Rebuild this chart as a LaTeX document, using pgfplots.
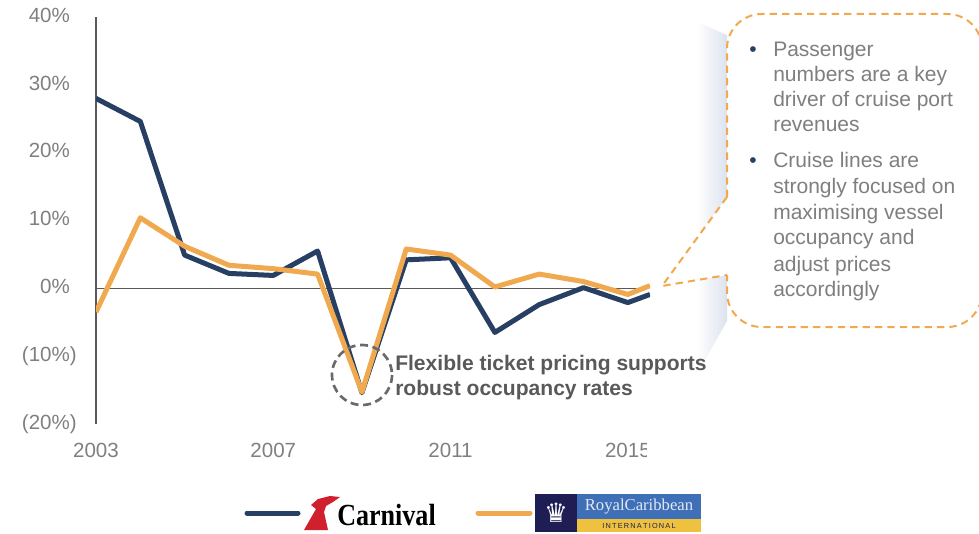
\documentclass[border=0pt]{standalone}
\usepackage{pgfplots}
\pgfplotsset{compat=1.18}
\usepackage{fontspec}
\usepackage{graphicx}
\setmainfont{Liberation Sans}
\newfontfamily\serifb{Liberation Serif}
\newfontfamily\djv{DejaVu Sans}
\definecolor{navy}{HTML}{263F63}
\definecolor{orng}{HTML}{F0A94E}
\definecolor{lblgray}{HTML}{7F7F7F}
\definecolor{axgray}{HTML}{595959}
\definecolor{shadeblue}{HTML}{DCE2EE}
\definecolor{rcnavy}{HTML}{1E1E55}
\definecolor{rcblue}{HTML}{3F6FB6}
\definecolor{rcyellow}{HTML}{EEC23E}
\definecolor{cred}{HTML}{D0202E}
\begin{document}
\begin{tikzpicture}
\useasboundingbox (0,0) rectangle (734.25pt,399.75pt);
\begin{axis}[
  at={(72pt,81.75pt)}, anchor=south west, scale only axis,
  width=415.5pt, height=305.25pt,
  xmin=2003, xmax=2015.5, ymin=-20, ymax=40,
  axis x line*=bottom, axis y line*=left,
  x axis line style={draw=none},
  y axis line style={draw=axgray, line width=1.5pt, -},
  xtick={2003,2007,2011,2015},
  xticklabels={2003,2007,2011,2015},
  ytick={-20,-10,0,10,20,30,40},
  yticklabels={(20\%),(10\%),0\%\phantom{)},10\%\phantom{)},20\%\phantom{)},30\%\phantom{)},40\%\phantom{)}},
  major tick length=0pt,
  tick label style={font=\fontsize{15.4}{18}\selectfont, text=lblgray, inner sep=0pt},
  yticklabel style={anchor=east, xshift=-14.25pt},
  xticklabel style={anchor=north, yshift=-14.25pt},
]
\addplot[axgray, line width=1.1pt] coordinates {(2003,0) (2015.3,0)};
\addplot[navy, line width=3.75pt, line join=round] coordinates {
 (2003,28.0) (2004,24.6) (2005,4.9) (2006,2.2) (2007,1.9) (2008,5.5)
 (2009,-15.4) (2010,4.2) (2011,4.5) (2012,-6.5) (2013,-2.4) (2014,0.1)
 (2015,-2.1) (2015.5,-0.9)};
\addplot[orng, line width=3.75pt, line join=round] coordinates {
 (2003,-3.5) (2004,10.4) (2005,6.2) (2006,3.4) (2007,2.9) (2008,2.1)
 (2009,-15.3) (2010,5.8) (2011,4.9) (2012,0.2) (2013,2.1) (2014,1.0)
 (2015,-0.9) (2015.5,0.4)};
\end{axis}
\begin{scope}[shift={(0pt,399.75pt)}, x=0.75pt, y=-0.75pt]
  % cut of the last tick label
  \fill[white] (647,432) rectangle (700,470);
  % shadow band
  \shade[left color=white, right color=shadeblue] (697,22) -- (727,35) -- (727,321) -- (705,360) -- (697,360) -- cycle;
  % callout
  \fill[white, rounded corners=26pt] (727,14) rectangle (982,327);
  \fill[white] (727,197) -- (662,286) -- (727,275) -- cycle;
  \draw[orng, line width=1.5pt, dash pattern=on 5.5pt off 3.8pt, rounded corners=26pt]
     (727,197) -- (727,14) -- (982,14) -- (982,327) -- (727,327) -- (727,275);
  \draw[orng, line width=1.5pt, dash pattern=on 5.5pt off 3.8pt] (727,197) -- (662,286) -- (727,275);
  \begin{scope}[every node/.style={anchor=base west, inner sep=0pt, text=lblgray, font=\fontsize{15.75}{18}\selectfont}]
    \node at (773,57) {Passenger};
    \node at (773,82) {numbers are a key};
    \node at (773,107) {driver of cruise port};
    \node at (773,132) {revenues};
    \node at (773,168) {Cruise lines are};
    \node at (773,194) {strongly focused on};
    \node at (773,220) {maximising vessel};
    \node at (773,245) {occupancy and};
    \node at (773,271) {adjust prices};
    \node at (773,296) {accordingly};
    \node[text=navy] at (749,57) {•};
    \node[text=navy] at (749,168) {•};
  \end{scope}
  % annotation
  \draw[axgray!90, line width=2pt, dash pattern=on 6pt off 3.5pt] (362,375) circle[radius=30];
  \node[anchor=base west, inner sep=0pt, text=axgray, font=\bfseries\fontsize{15.8}{18}\selectfont] at (395,370) {Flexible ticket pricing supports};
  \node[anchor=base west, inner sep=0pt, text=axgray, font=\bfseries\fontsize{15.8}{18}\selectfont] at (395,395) {robust occupancy rates};
  % legend
  \draw[navy, line width=3.75pt, line cap=round] (247,513) -- (298,513);
  \draw[orng, line width=3.75pt, line cap=round] (478,513) -- (530,513);
  % Carnival logo
  \fill[cred] (304,530) -- (316,509) -- (311,505) -- (318,499) -- (330,496) -- (340,497) -- (333,502) -- (326,506) -- (324,512) -- (328,530) -- cycle;
  \node[anchor=base west, inner sep=0pt, font=\serifb\bfseries\fontsize{23}{25}\selectfont] at (337,525) {\scalebox{0.85}[1]{Carnival}};
  % Royal Caribbean logo
  \fill[rcnavy] (535,494) rectangle (577,532);
  \node[text=white, font=\djv\fontsize{20}{22}\selectfont, inner sep=0pt] at (556,513) {♛};
  \fill[rcblue] (577,494) rectangle (701,519);
  \fill[rcyellow] (577,519) rectangle (701,532);
  \node[text=white!85!rcblue, font=\serifb\fontsize{12.5}{14}\selectfont, inner sep=0pt] at (639,507) {RoyalCaribbean};
  \node[text=rcnavy, font=\fontsize{5.5}{6}\selectfont, inner sep=0pt] at (639,526) {I\,N\,T\,E\,R\,N\,A\,T\,I\,O\,N\,A\,L};
\end{scope}
\end{tikzpicture}
\end{document}
